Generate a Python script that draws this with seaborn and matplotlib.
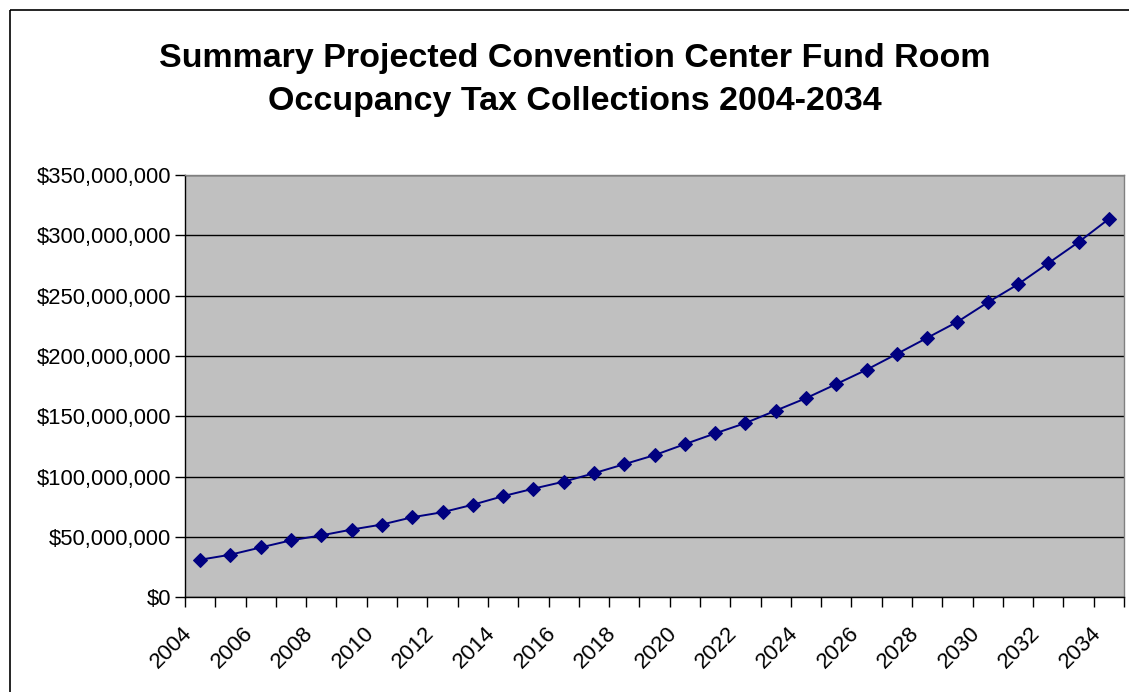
import matplotlib
matplotlib.use("Agg")
import matplotlib.pyplot as plt
import matplotlib.transforms as mtransforms
from matplotlib.patches import Rectangle
from matplotlib.ticker import FuncFormatter
import seaborn as sns
import pandas as pd

years = list(range(2004, 2035))
collections = [31.1, 35.3, 41.3, 47.2, 51.3, 56.1, 60.3, 66.3, 70.5, 76.7,
               83.8, 90.0, 95.8, 102.8, 110.3, 117.8, 126.9, 135.8, 144.4, 154.7,
               165.0, 176.7, 188.6, 201.7, 215.0, 228.3, 244.4, 259.4, 276.9, 294.4,
               313.6]  # millions of dollars
title = "Summary Projected Convention Center Fund Room\nOccupancy Tax Collections 2004-2034"

df = pd.DataFrame({"year": years, "value": [v * 1e6 for v in collections]})

sns.set_style("ticks")
plt.rcParams["font.family"] = ["Liberation Sans", "DejaVu Sans"]
plt.rcParams["text.color"] = "black"
plt.rcParams["xtick.labelcolor"] = "black"
plt.rcParams["ytick.labelcolor"] = "black"

fig = plt.figure(figsize=(11.29, 6.92), dpi=100)
ax = fig.add_axes([0.1639, 0.1369, 0.8317, 0.6102])

sns.lineplot(data=df, x="year", y="value", ax=ax, color="#000080",
             linewidth=1.4, marker="D", markersize=7.5, markeredgecolor="#000080")

ax.set_facecolor("#C0C0C0")
ax.set_xlim(2003.5, 2034.5)
ax.set_ylim(0, 350e6)
ax.set_yticks(range(0, 350000001, 50000000))
ax.yaxis.set_major_formatter(FuncFormatter(lambda v, p: "${:,.0f}".format(v)))
ax.grid(axis="y", color="black", linewidth=1)
ax.set_axisbelow(True)

# ticks at category boundaries, labels at every other category
ax.set_xticks([y + 0.5 for y in range(2003, 2035)], minor=True)
ax.set_xticks(years[::2])
ax.set_xticklabels([str(y) for y in years[::2]])
ax.tick_params(axis="x", which="major", length=0, labelsize=16, pad=0,
               labelcolor="black")
ax.tick_params(axis="x", which="minor", length=7, width=1, color="black")
ax.tick_params(axis="y", length=7, width=1, color="black", labelsize=15.8, pad=3,
               labelcolor="black")
offset = mtransforms.ScaledTranslation(-11 / 100, -33 / 100, fig.dpi_scale_trans)
for lab in ax.get_xticklabels():
    lab.set_rotation(45)
    lab.set_ha("right")
    lab.set_va("center")
    lab.set_rotation_mode("anchor")
    lab.set_transform(lab.get_transform() + offset)

for side in ["top", "right"]:
    ax.spines[side].set_color("#808080")
for side in ["left", "bottom"]:
    ax.spines[side].set_color("black")
for s in ax.spines.values():
    s.set_linewidth(1)

ax.set_xlabel("")
ax.set_ylabel("")

fig.text(0.509, 0.885, title, ha="center", va="center", fontsize=24.5,
         fontweight="bold", linespacing=1.5, color="black")

fig.patches.append(Rectangle((10, 10), 1200, 800, fill=False,
                             edgecolor="black", linewidth=1.2))
# figure pixel coords measured from top-left
fig.patches[-1].set_transform(mtransforms.Affine2D().scale(1, -1).translate(0, 692))

fig.savefig("out.png", dpi=100)
